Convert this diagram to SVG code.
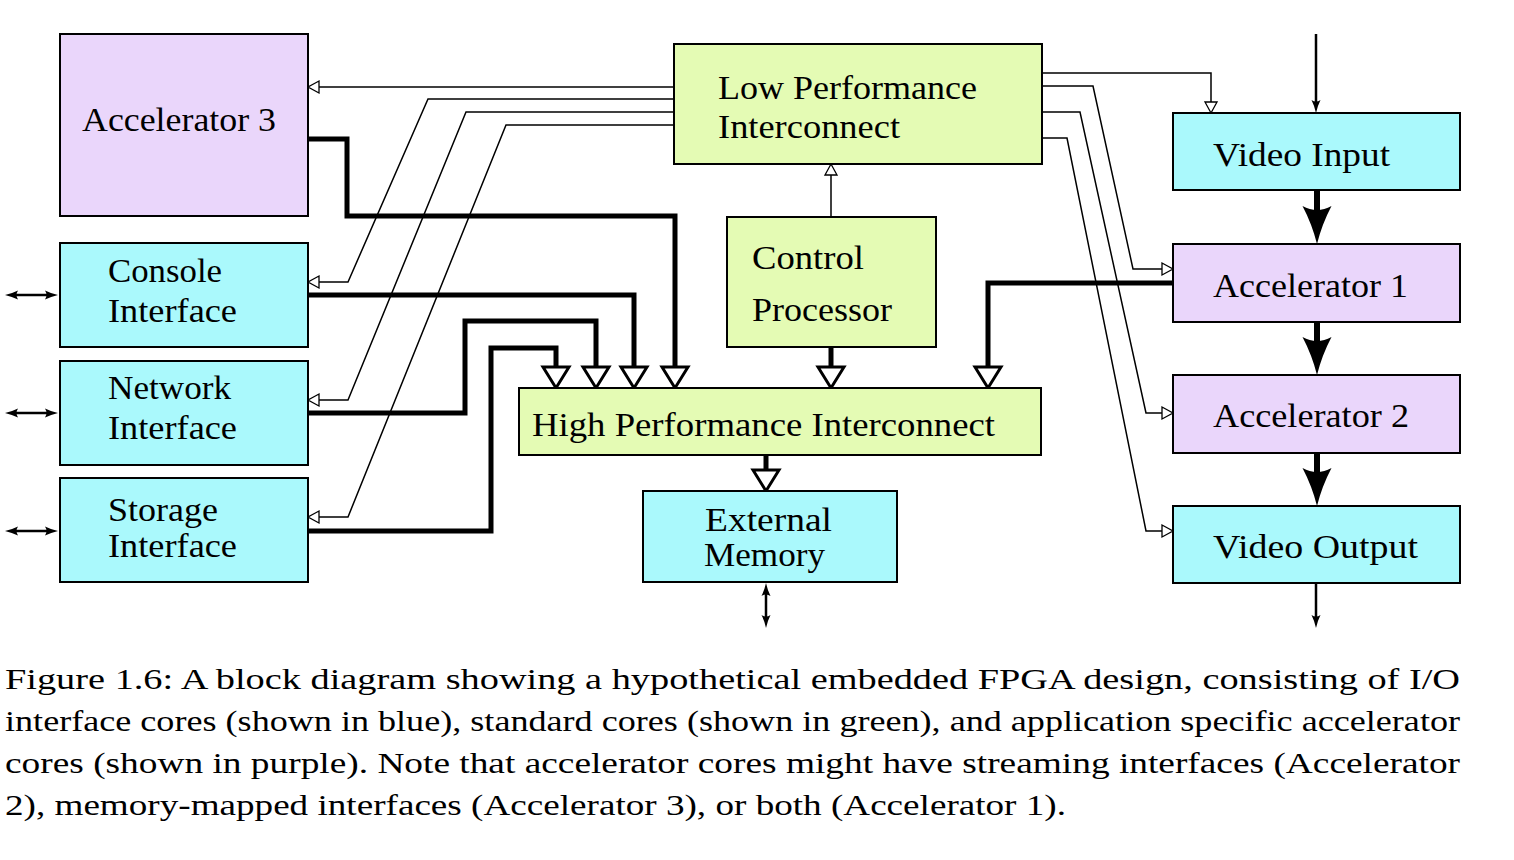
<svg xmlns="http://www.w3.org/2000/svg" width="1514" height="860" viewBox="0 0 1514 860">
<style>
.box{stroke:#000;stroke-width:2}
.io{fill:#aaf9fc}
.std{fill:#e4fbb4}
.acc{fill:#ead6fb}
.thin{fill:none;stroke:#000;stroke-width:1.5;marker-end:url(#openS)}
.thick{fill:none;stroke:#000;stroke-width:5;stroke-linejoin:miter;marker-end:url(#openB)}
.stream{fill:none;stroke:#000;stroke-width:6;marker-end:url(#stealth)}
.ext{fill:none;stroke:#000;stroke-width:2.5;marker-end:url(#smallF)}
.bi{fill:none;stroke:#000;stroke-width:2.5;marker-start:url(#smallF);marker-end:url(#smallF)}
</style>
<defs>
<marker id="openS" markerUnits="userSpaceOnUse" overflow="visible" orient="auto" refX="0" refY="0" markerWidth="1" markerHeight="1">
<path d="M0,-6 L11,0 L0,6 Z" fill="#fff" stroke="#000" stroke-width="1.3"/>
</marker>
<marker id="openB" markerUnits="userSpaceOnUse" overflow="visible" orient="auto" refX="0" refY="0" markerWidth="1" markerHeight="1">
<path d="M0,-13 L21,0 L0,13 Z" fill="#fff" stroke="#000" stroke-width="3" stroke-linejoin="miter"/>
</marker>
<marker id="stealth" markerUnits="userSpaceOnUse" overflow="visible" orient="auto" refX="0" refY="0" markerWidth="1" markerHeight="1">
<path d="M-6,-14.5 Q12,-5 32,0 Q12,5 -6,14.5 Q2,0 -6,-14.5 Z" fill="#000"/>
</marker>
<marker id="smallF" markerUnits="userSpaceOnUse" overflow="visible" orient="auto-start-reverse" refX="0" refY="0" markerWidth="1" markerHeight="1">
<path d="M-3,-4.5 Q3,-1.5 10,0 Q3,1.5 -3,4.5 Q0,0 -3,-4.5 Z" fill="#000"/>
</marker>
</defs>
<rect width="1514" height="860" fill="#fff"/>

<g id="connectors">
<path class="thin" d="M674,87 H319"/>
<path class="thin" d="M674,99 H428 L348,282 H319"/>
<path class="thin" d="M674,112 H466 L348,400 H319"/>
<path class="thin" d="M674,125 H506 L348,517 H319"/>
<path class="thin" d="M1042,73 H1211 V102"/>
<path class="thin" d="M1042,86 H1093 L1133,269 H1162"/>
<path class="thin" d="M1042,112 H1080 L1146,413 H1162"/>
<path class="thin" d="M1042,138 H1067 L1146,531 H1162"/>
<path class="thin" d="M831,217 V175"/>
<path class="thick" d="M308,139 H347 V216 H675 V367"/>
<path class="thick" d="M308,295 H634 V367"/>
<path class="thick" d="M308,413 H465 V321 H596 V367"/>
<path class="thick" d="M308,531 H491 V348 H556 V367"/>
<path class="thick" d="M831,347 V367"/>
<path class="thick" d="M1173,283 H988 V367"/>
<path class="thick" d="M766,455 V470"/>
<path class="stream" d="M1317,190 V212"/>
<path class="stream" d="M1317,322 V343"/>
<path class="stream" d="M1317,453 V474"/>
<path class="ext" d="M1316,34 V103"/>
<path class="ext" d="M1316,583 V618"/>
<path class="bi" d="M766,593 V618"/>
<path class="bi" d="M15,295 H48"/>
<path class="bi" d="M15,413 H48"/>
<path class="bi" d="M15,531 H48"/>
</g>

<g font-family="'Liberation Serif', serif" font-size="33" fill="#000">
<g id="accelerator3">
<rect class="box acc" x="60" y="34" width="248" height="182"/>
<text x="82" y="131" textLength="194" lengthAdjust="spacingAndGlyphs">Accelerator 3</text>
</g>
<g id="console">
<rect class="box io" x="60" y="243" width="248" height="104"/>
<text x="108" y="282" textLength="114" lengthAdjust="spacingAndGlyphs">Console</text>
<text x="108" y="322" textLength="129" lengthAdjust="spacingAndGlyphs">Interface</text>
</g>
<g id="network">
<rect class="box io" x="60" y="361" width="248" height="104"/>
<text x="108" y="399" textLength="123" lengthAdjust="spacingAndGlyphs">Network</text>
<text x="108" y="439" textLength="129" lengthAdjust="spacingAndGlyphs">Interface</text>
</g>
<g id="storage">
<rect class="box io" x="60" y="478" width="248" height="104"/>
<text x="108" y="521" textLength="110" lengthAdjust="spacingAndGlyphs">Storage</text>
<text x="108" y="557" textLength="129" lengthAdjust="spacingAndGlyphs">Interface</text>
</g>
<g id="lowperf">
<rect class="box std" x="674" y="44" width="368" height="120"/>
<text x="718" y="99" textLength="259" lengthAdjust="spacingAndGlyphs">Low Performance</text>
<text x="718" y="138" textLength="182" lengthAdjust="spacingAndGlyphs">Interconnect</text>
</g>
<g id="control">
<rect class="box std" x="727" y="217" width="209" height="130"/>
<text x="752" y="269" textLength="112" lengthAdjust="spacingAndGlyphs">Control</text>
<text x="752" y="321" textLength="140" lengthAdjust="spacingAndGlyphs">Processor</text>
</g>
<g id="highperf">
<rect class="box std" x="519" y="388" width="522" height="67"/>
<text x="532" y="436" textLength="463" lengthAdjust="spacingAndGlyphs">High Performance Interconnect</text>
</g>
<g id="extmem">
<rect class="box io" x="643" y="491" width="254" height="91"/>
<text x="705" y="531" textLength="127" lengthAdjust="spacingAndGlyphs">External</text>
<text x="704" y="566" textLength="121" lengthAdjust="spacingAndGlyphs">Memory</text>
</g>
<g id="videoin">
<rect class="box io" x="1173" y="113" width="287" height="77"/>
<text x="1213" y="166" textLength="177" lengthAdjust="spacingAndGlyphs">Video Input</text>
</g>
<g id="accelerator1">
<rect class="box acc" x="1173" y="244" width="287" height="78"/>
<text x="1213" y="297" textLength="195" lengthAdjust="spacingAndGlyphs">Accelerator 1</text>
</g>
<g id="accelerator2">
<rect class="box acc" x="1173" y="375" width="287" height="78"/>
<text x="1213" y="427" textLength="196" lengthAdjust="spacingAndGlyphs">Accelerator 2</text>
</g>
<g id="videoout">
<rect class="box io" x="1173" y="506" width="287" height="77"/>
<text x="1213" y="558" textLength="205" lengthAdjust="spacingAndGlyphs">Video Output</text>
</g>
</g>

<g id="caption" font-family="'Liberation Serif', serif" font-size="29" fill="#000">
<text x="5" y="689" textLength="1455" lengthAdjust="spacingAndGlyphs">Figure 1.6: A block diagram showing a hypothetical embedded FPGA design, consisting of I/O</text>
<text x="5" y="731" textLength="1455" lengthAdjust="spacingAndGlyphs">interface cores (shown in blue), standard cores (shown in green), and application specific accelerator</text>
<text x="5" y="773" textLength="1455" lengthAdjust="spacingAndGlyphs">cores (shown in purple). Note that accelerator cores might have streaming interfaces (Accelerator</text>
<text x="5" y="815" textLength="1061" lengthAdjust="spacingAndGlyphs">2), memory-mapped interfaces (Accelerator 3), or both (Accelerator 1).</text>
</g>
</svg>
